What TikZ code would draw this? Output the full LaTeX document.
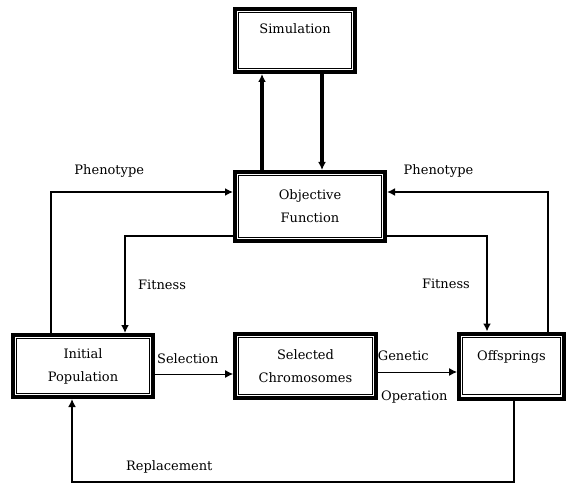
\documentclass[tikz,border=0pt]{standalone}
\usepackage{fontspec}
\setmainfont{DejaVu Serif}
\usetikzlibrary{arrows.meta, positioning, calc}
\tikzset{
	>={Latex[length=8pt,width=8pt]},
	every node/.style={font=\fontsize{13}{23}\selectfont},
	block/.style={draw, line width=4pt, align=center, inner sep=4pt,
		path picture={\draw[line width=0.8pt] ([shift={(3.8pt,3.8pt)}]path picture bounding box.south west) rectangle ([shift={(-3.8pt,-3.8pt)}]path picture bounding box.north east);}},
	flow/.style={->, line width=1.6pt},
}
\begin{document}
\begin{tikzpicture}[x=1pt, y=1pt]
			\useasboundingbox (0,0) rectangle (568,491);
			\node [block, minimum width=150pt, minimum height=69pt] (OBJfunc) at (310,284.5) {Objective\\Function};
			\node [block, minimum width=120pt, minimum height=63pt, text depth=24pt, above=96pt of OBJfunc.north west, anchor=south west] (SIM) {Simulation};
			\node [block, minimum width=141pt, minimum height=64pt, below=89pt of OBJfunc.south west, anchor=north west] (SELchrom) {Selected\\Chromosomes};
			\node [block, minimum width=140pt, minimum height=62pt, left=78pt of SELchrom] (INITpop) {Initial\\Population};
			\node [block, minimum width=105pt, minimum height=65pt, text depth=20pt, right=79pt of SELchrom] (OFFspring) {Offsprings};
			
			\draw [flow, line width=3.2pt] ([xshift=29pt]OBJfunc.north west) -- ([xshift=29pt]SIM.south west);
			\draw [flow, line width=3.2pt] ([xshift=89pt]SIM.south west) -- ([xshift=89pt]OBJfunc.north west);
			\draw [flow] ([xshift=40pt]INITpop.north west) |- node[pos=0.66, above=10pt]{Phenotype} ([yshift=-22pt]OBJfunc.north west);
			\draw [flow] ([xshift=-18pt]OFFspring.north east) |- node[pos=0.84, above=10pt]{Phenotype} ([yshift=-22pt]OBJfunc.north east);
			\draw [flow] ([yshift=7pt]OBJfunc.south west) -| node[pos=0.75, right=9pt]{Fitness} ([xshift=114pt]INITpop.north west);
			\draw [flow] ([yshift=7pt]OBJfunc.south east) -| node[pos=0.75, left=13pt]{Fitness} ([xshift=30pt]OFFspring.north west);
			\draw [flow, line width=0.8pt] ([yshift=-8pt]INITpop.east) -- node[pos=0.42, above=7pt]{Selection} ([yshift=-8pt]SELchrom.west);
			\draw [flow, line width=1pt] ([yshift=-6pt]SELchrom.east) -- node[pos=0.32, above=7pt]{Genetic} node[pos=0.46, below=15pt]{Operation} ([yshift=-6pt]OFFspring.west);
			\draw [flow, line width=2pt] ([xshift=-52pt]OFFspring.south east) -- ++(0,-81) -| node[pos=0.39, above=4pt]{Replacement} ([xshift=61pt]INITpop.south west);
			
		\end{tikzpicture}
\end{document}
